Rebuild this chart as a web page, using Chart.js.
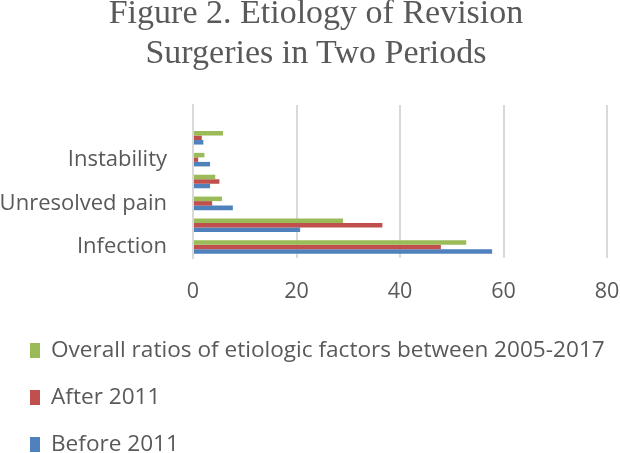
<!DOCTYPE html>
<html>
<head>
<meta charset="utf-8">
<script src="https://cdn.jsdelivr.net/npm/chart.js@4"></script>
<style>
  body { margin: 0; background: #fff; }
  #wrap { position: relative; width: 620px; height: 453px; overflow: hidden; }
  #title { position: absolute; left: 6px; top: -8px; width: 620px; text-align: center;
    font-family: "Liberation Serif", serif; font-size: 34px; line-height: 40px; color: #595959; }
  #legend { position: absolute; left: 30px; top: 334px; font-family: "Open Sans", sans-serif;
    font-size: 22.6px; color: #595959; }
  .item { height: 47px; line-height: 30px; white-space: nowrap; }
  .box { display: inline-block; width: 10px; height: 15px; margin-right: 11px; vertical-align: -1px; }
</style>
</head>
<body>
<div id="wrap">
  <canvas id="chart" width="620" height="453"></canvas>
  <div id="title">Figure 2. Etiology of Revision<br>Surgeries in Two Periods</div>
  <div id="legend"></div>
</div>
<script>
// first category sits at the bottom, like the Excel original
const categories = ['Infection', 'Aseptic loosening', 'Unresolved pain', 'Stiffness', 'Instability', 'Periprosthetic fracture', '']
const overall = [52.8, 29.0, 5.6, 4.3, 2.2, 5.8, null]
const after2011 = [47.9, 36.6, 3.7, 5.1, 1.0, 1.7, null]
const before2011 = [57.8, 20.7, 7.7, 3.3, 3.3, 2.0, null]
const xTicks = [0, 20, 40, 60, 80]

const grey = '#595959'
const gridGrey = '#d9d9d9'

const chart = new Chart(document.querySelector('#chart'), {
    type: 'bar',
    data: {
        labels: categories,
        datasets: [
            { label: 'Overall ratios of etiologic factors between 2005-2017', data: overall, backgroundColor: '#9BBB59' },
            { label: 'After 2011', data: after2011, backgroundColor: '#C0504D' },
            { label: 'Before 2011', data: before2011, backgroundColor: '#4F81BD' }
        ]
    },
    options: {
        indexAxis: 'y',
        responsive: false,
        animation: false,
        layout: { padding: { top: 105, bottom: 148, right: 0, left: 0 } },
        datasets: { bar: { categoryPercentage: 0.62, barPercentage: 1.0 } },
        scales: {
            x: {
                min: xTicks[0],
                max: xTicks[xTicks.length - 1],
                afterBuildTicks: scale => { scale.ticks = xTicks.map(v => ({ value: v })) },
                afterFit: scale => {
                    scale.height = 47
                    scale.paddingRight = 13
                },
                grid: { color: gridGrey, lineWidth: 2, drawTicks: false },
                border: { display: false },
                ticks: { color: grey, padding: 21, font: { family: 'Open Sans', size: 21.5 } }
            },
            y: {
                reverse: true,
                grid: { display: false, drawTicks: false },
                border: { display: true, color: gridGrey, width: 2 },
                afterFit: scale => { scale.width = 193 },
                ticks: {
                    autoSkip: false,
                    color: grey,
                    padding: 26,
                    font: { family: 'Open Sans', size: 22 },
                    // Excel only had room for every other label
                    callback: (v, i) => i % 2 === 0 ? categories[i] : ''
                }
            }
        },
        plugins: {
            legend: { display: false },
            tooltip: { enabled: false }
        }
    }
})

// legend as one item per row, as in the original
const legend = document.querySelector('#legend')
chart.data.datasets.forEach(ds => {
    const row = document.createElement('div')
    row.className = 'item'
    row.innerHTML = '<span class="box" style="background:' + ds.backgroundColor + '"></span>' + ds.label
    legend.appendChild(row)
})
</script>
</body>
</html>
